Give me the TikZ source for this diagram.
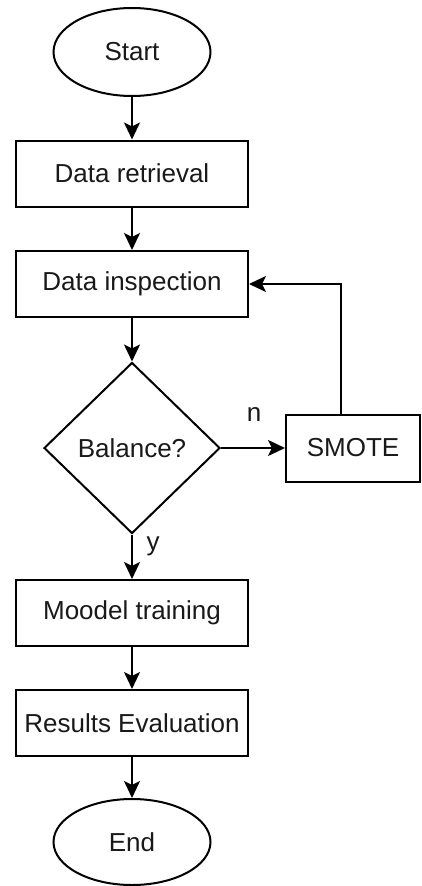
\documentclass[tikz,border=0pt]{standalone}
\usepackage{fontspec}
\setmainfont{Liberation Sans}
\usetikzlibrary{arrows.meta,shapes.geometric}
\begin{document}
\begin{tikzpicture}[x=1pt,y=-1pt,
  txt/.style={font=\fontsize{26}{31}\selectfont, text=black!90},
  lw/.style={line width=2pt},
  flow/.style={lw, -{Stealth[length=17pt,width=16pt,inset=4pt]}},
  term/.style={txt, lw, draw, ellipse, minimum width=157pt, minimum height=88pt, inner sep=0pt},
  proc/.style={txt, lw, draw, rectangle, minimum width=232pt, minimum height=66pt, inner sep=0pt},
  decide/.style={txt, lw, draw, diamond, minimum width=176pt, minimum height=171pt, inner sep=0pt},
  lbl/.style={txt, inner sep=0pt}
]
\useasboundingbox (0,0) rectangle (422,886);

% main flow
\node[term]   (start) at (132,52)    {Start};
\node[proc]   (retr)  at (132,173.5) {Data retrieval};
\node[proc]   (insp)  at (132,284)   {Data inspection};
\node[decide] (bal)   at (132,448)   {Balance?};
\node[proc, minimum width=134pt, minimum height=67pt] (smote) at (353,448) {SMOTE};
\node[proc]   (train) at (132,613)   {Moodel training};
\node[proc]   (eval)  at (132,723)   {Results Evaluation};
\node[term, minimum height=86pt] (end) at (132,842) {End};

% branch labels
\node[lbl] (nlab) at (254,414) {n};
\node[lbl] (ylab) at (153,546) {y};

% connectors
\draw[flow] (start) -- (retr);
\draw[flow] (retr) -- (insp);
\draw[flow] (insp) -- (bal);
\draw[flow] (bal.east) -- (smote.west);
\draw[flow] ([xshift=-12pt]smote.north) |- (insp.east);
\draw[flow] (bal) -- (train);
\draw[flow] (train) -- (eval);
\draw[flow] (eval) -- (end);
\end{tikzpicture}
\end{document}
